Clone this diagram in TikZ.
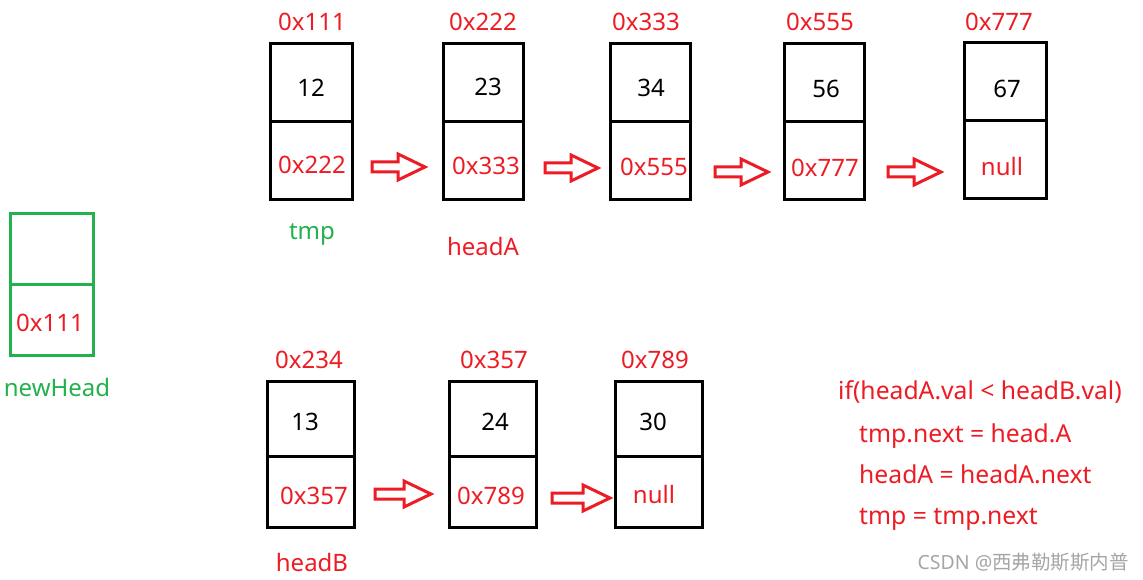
\documentclass[tikz,border=0pt]{standalone}
\usepackage{fontspec}
\setmainfont{Noto Sans}
\newfontfamily\cjkfont{Noto Sans CJK SC}
\definecolor{pred}{RGB}{237,28,36}
\definecolor{pgreen}{RGB}{34,177,76}
\definecolor{wgray}{RGB}{165,165,165}
\begin{document}
\begin{tikzpicture}[x=1pt,y=-1pt,
  cell/.style={draw=black,line width=3pt,minimum width=#1,inner sep=0pt,outer sep=0pt,anchor=north west},
  gcell/.style={draw=pgreen,line width=3pt,inner sep=0pt,outer sep=0pt,anchor=north west},
  txt/.style={inner sep=0pt,text height=17.3pt,text depth=0pt,font=\fontsize{24}{28}\selectfont},
  addr/.style={txt,text=pred},
  val/.style={txt,text=black},
  gtxt/.style={txt,text=pgreen},
  code/.style={inner sep=0pt,text height=17.8pt,text depth=0pt,text=pred,anchor=west,font=\fontsize{24.7}{28}\selectfont},
  blockarrow/.pic={\draw[pred,line width=3pt,line join=miter]
     (0,-5) -- (#1-27,-5) -- (#1-27,-13) -- (#1,0) -- (#1-27,13) -- (#1-27,5) -- (0,5) -- cycle;}
]
\useasboundingbox (0,0) rectangle (1143,580);
% ---------- top list ----------
\foreach \n/\x/\y/\w in {a1/270/44/82,a2/443/44/80,a3/610/44/80,a4/784/44/80,a5/964/43/82}{
  \node[cell=\w pt,minimum height=78pt] (\n t) at (\x,\y) {};
  \node[cell=\w pt,minimum height=78pt] (\n b) at (\n t.south west) {};
}
% ---------- bottom list ----------
\foreach \n/\x/\w in {b1/267/87,b2/449/87,b3/615/87}{
  \node[cell=\w pt,minimum height=75pt] (\n t) at (\x,381) {};
  \node[cell=\w pt,minimum height=71pt] (\n b) at (\n t.south west) {};
}
% ---------- newHead ----------
\node[gcell,minimum width=83pt,minimum height=70pt] (nht) at (10,214) {};
\node[gcell,minimum width=83pt,minimum height=71pt] (nhb) at (nht.south west) {};
% ---------- texts top ----------
\node[addr] (la1) at (312,22) {0x111};
\node[addr] (la2) at (483,22) {0x222};
\node[addr] (la3) at (646,22) {0x333};
\node[addr] (la4) at (820,22) {0x555};
\node[addr] (la5) at (999,22) {0x777};
\node[val] (va1) at (311,88) {12};
\node[val] (va2) at (488,87) {23};
\node[val] (va3) at (651,88) {34};
\node[val] (va4) at (826,89) {56};
\node[val] (va5) at (1007,89) {67};
\node[addr] (pa1) at (312,165) {0x222};
\node[addr] (pa2) at (486,166) {0x333};
\node[addr] (pa3) at (654,167) {0x555};
\node[addr] (pa4) at (825,168) {0x777};
\node[addr] (pa5) at (1002,167) {null};
\node[gtxt] (tmp) at (312,231) {tmp};
\node[addr] (heada) at (483,247) {headA};
% ---------- texts newHead ----------
\node[addr] (nhp) at (50,323) {0x111};
\node[gtxt] (nhl) at (57,388) {newHead};
% ---------- texts bottom ----------
\node[addr] (lb1) at (309,360) {0x234};
\node[addr] (lb2) at (494,360) {0x357};
\node[addr] (lb3) at (655,360) {0x789};
\node[val] (vb1) at (305,422) {13};
\node[val] (vb2) at (495,422) {24};
\node[val] (vb3) at (653,422) {30};
\node[addr] (pb1) at (314,496) {0x357};
\node[addr] (pb2) at (491,496) {0x789};
\node[addr] (pb3) at (654,495) {null};
\node[addr] (headb) at (312,563) {headB};
% ---------- arrows ----------
\pic at (372,167) {blockarrow=53};
\pic at (545,168) {blockarrow=53};
\pic at (715,172) {blockarrow=53};
\pic at (888,172) {blockarrow=53};
\pic at (375,494) {blockarrow=56};
\pic at (552,498) {blockarrow=58};
% ---------- code ----------
\node[code] (c1) at (838,391) {if(headA.val < headB.val)};
\node[code] (c2) at (859,434) {tmp.next = head.A};
\node[code] (c3) at (859,475) {headA = headA.next};
\node[code] (c4) at (859,516) {tmp = tmp.next};
\node[inner sep=0pt,anchor=east,text=wgray,font=\fontsize{19.5}{22}\selectfont] (wm) at (1129,562) {CSDN @{\cjkfont 西弗勒斯斯内普}};
\end{tikzpicture}
\end{document}
